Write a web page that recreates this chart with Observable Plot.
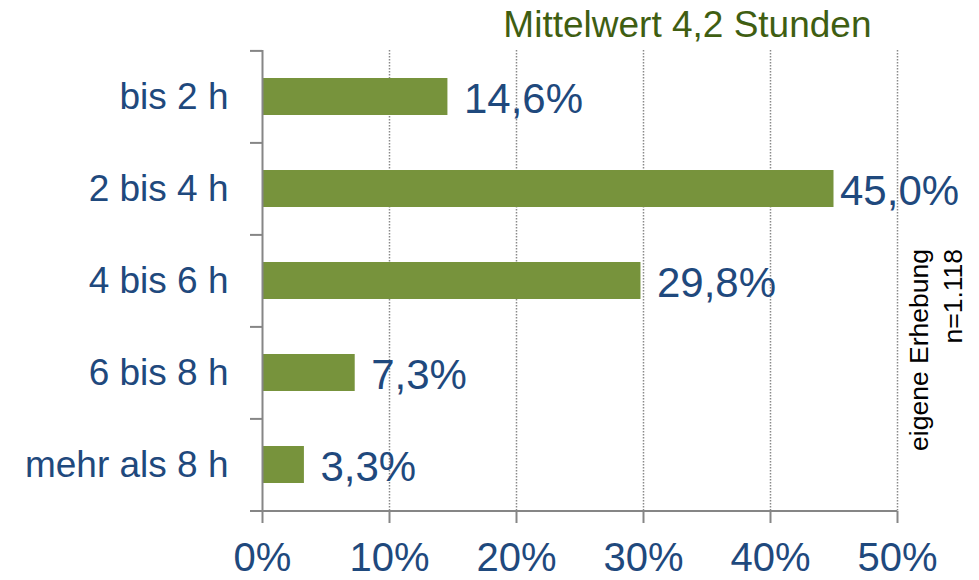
<!DOCTYPE html>
<html>
<head>
<meta charset="utf-8">
<script src="https://cdn.jsdelivr.net/npm/d3@7"></script>
<script src="https://cdn.jsdelivr.net/npm/@observablehq/plot@0.6"></script>
<style>
  html, body { margin: 0; padding: 0; background: #ffffff; }
  #chart { width: 979px; height: 580px; }
</style>
</head>
<body>
<div id="chart"></div>
<script>
const categories = ["bis 2 h", "2 bis 4 h", "4 bis 6 h", "6 bis 8 h", "mehr als 8 h"];
const values = [14.6, 45.0, 29.8, 7.3, 3.3];
const xTicks = [0, 10, 20, 30, 40, 50];
const gridTicks = [10, 20, 30, 40, 50];
const titleText = "Mittelwert 4,2 Stunden";
const noteText = "eigene Erhebung\nn=1.118";

const data = categories.map((c, i) => ({cat: c, value: values[i]}));

const W = 979, H = 580;
const mL = 262, mR = 82, mT = 50, mB = 69;
const xMax = 50;
const pxPerUnit = (W - mL - mR) / xMax;
const yTickLen = 12 / pxPerUnit;
const step = (H - mT - mB) / categories.length;

const blue = "#1F497D";
const green = "#77933C";
const titleGreen = "#3F5E12";
const axisGray = "#868686";

const fmt = d => d.toFixed(1).replace(".", ",") + "%";
const nearEdge = d => d.value > 40;

const chart = Plot.plot({
  width: W,
  height: H,
  marginLeft: mL,
  marginRight: mR,
  marginTop: mT,
  marginBottom: mB,
  style: {fontFamily: "'Liberation Sans', Arial, sans-serif", background: "#ffffff", overflow: "visible"},
  x: {domain: [0, xMax], label: null},
  y: {domain: categories, paddingInner: 0.6, paddingOuter: 0.3, label: null},
  marks: [
    Plot.ruleX(gridTicks, {stroke: "#8a8a8a", strokeWidth: 1.5, strokeDasharray: "1.5,1.5"}),
    Plot.barX(data, {x: "value", y: "cat", fill: green}),
    Plot.ruleX([0], {stroke: axisGray, strokeWidth: 2}),
    Plot.ruleY(categories, {y: d => d, x1: -yTickLen, x2: 0, dy: -step / 2, stroke: axisGray, strokeWidth: 2}),
    Plot.ruleY(categories.slice(-1), {y: d => d, x1: -yTickLen, x2: xMax, dy: step / 2, stroke: axisGray, strokeWidth: 2}),
    Plot.axisX({ticks: xTicks, tickSize: 12, tickPadding: 19, tickFormat: d => d + "%", fontSize: 40, stroke: axisGray, strokeWidth: 2, fill: blue, label: null}),
    Plot.axisY({tickSize: 0, tickPadding: 34, fontSize: 37, fill: blue, label: null}),
    Plot.text(data.filter(d => !nearEdge(d)), {x: "value", y: "cat", text: d => fmt(d.value), textAnchor: "start", dx: 16, dy: 3, fontSize: 42, fill: blue}),
    Plot.text(data.filter(nearEdge), {x: "value", y: "cat", text: d => fmt(d.value), textAnchor: "start", dx: 6, dy: 3, fontSize: 42, fill: blue}),
    Plot.text([titleText], {text: d => d, frameAnchor: "top-right", textAnchor: "end", lineAnchor: "middle", dx: -26, dy: -25, fontSize: 37, fill: titleGreen}),
    Plot.text([noteText], {text: d => d, frameAnchor: "right", rotate: -90, textAnchor: "end", lineAnchor: "top", lineHeight: 1.3, dx: 6, dy: -32, fontSize: 26.5, fill: "#000000"})
  ]
});

document.getElementById("chart").appendChild(chart);
</script>
</body>
</html>
